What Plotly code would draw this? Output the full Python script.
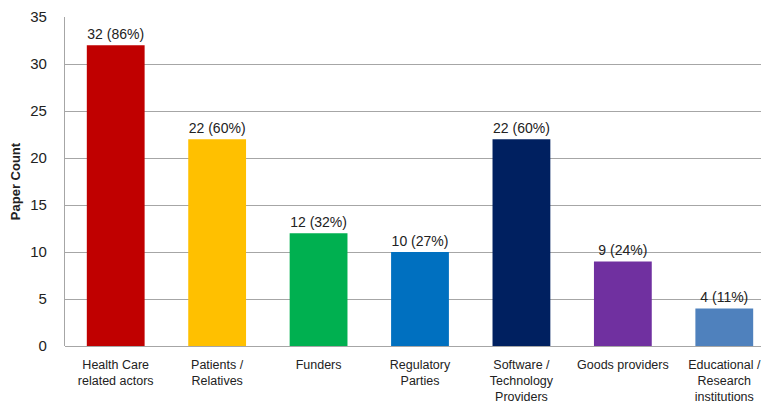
import plotly.graph_objects as go

categories = ["Health Care<br>related actors", "Patients /<br>Relatives", "Funders",
              "Regulatory<br>Parties", "Software /<br>Technology<br>Providers",
              "Goods providers", "Educational /<br>Research<br>institutions"]
counts = [32, 22, 12, 10, 22, 9, 4]
percents = [86, 60, 32, 27, 60, 24, 11]
colors = ["#C00000", "#FFC000", "#00B050", "#0070C0", "#002060", "#7030A0", "#4F81BD"]

labels = [f"{c} ({p}%)" for c, p in zip(counts, percents)]

fig = go.Figure(go.Bar(
    x=categories, y=counts, marker_color=colors, marker_line_width=0,
    text=labels, textposition="outside", cliponaxis=False,
    textfont=dict(size=14, color="#222"),
))

fig.update_layout(
    width=769, height=407,
    margin=dict(l=57, r=2, t=9, b=69),
    plot_bgcolor="white", paper_bgcolor="white",
    font=dict(family="Liberation Sans, Arial, sans-serif", size=12, color="#222"),
    bargap=0.43,
    showlegend=False,
    xaxis=dict(showline=False, ticks="", tickfont=dict(size=12.5), automargin=False,
               ticklabelstandoff=9),
    yaxis=dict(range=[0, 35], dtick=5, showgrid=True, gridcolor="#A6A6A6", gridwidth=1.3,
               showline=True, linecolor="#A6A6A6", linewidth=1.3, zeroline=True,
               zerolinecolor="#A6A6A6", zerolinewidth=1.3, automargin=False,
               tickfont=dict(size=15), ticklabelstandoff=14,
               title=dict(text="<b>Paper Count</b>", font=dict(size=13), standoff=8)),
)

fig.write_html("out.html")
